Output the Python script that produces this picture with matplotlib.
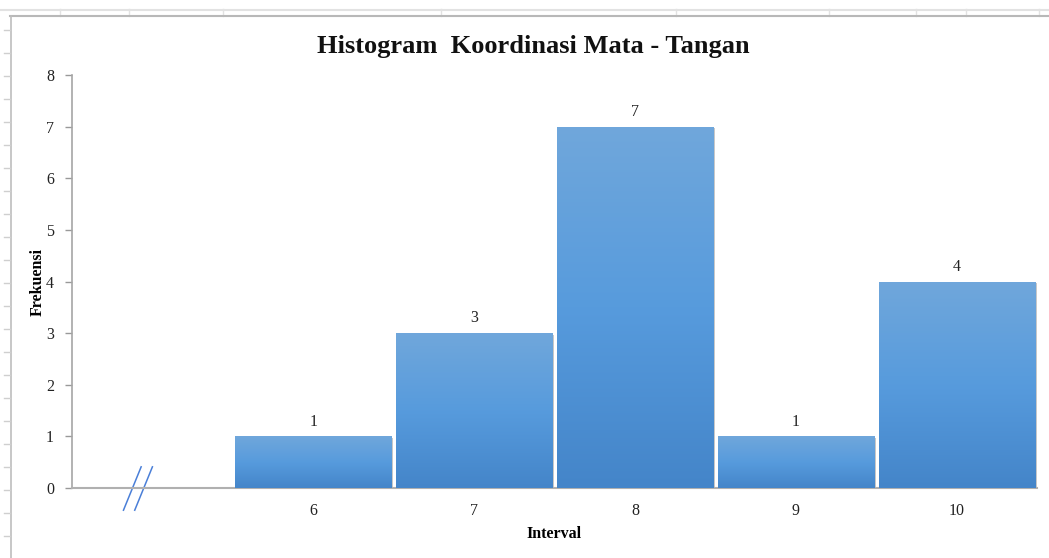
import matplotlib
matplotlib.use("Agg")
import matplotlib.pyplot as plt
import numpy as np
from matplotlib.lines import Line2D
from matplotlib.colors import LinearSegmentedColormap

categories = ["", "6", "7", "8", "9", "10"]
frequencies = [0, 1, 3, 7, 1, 4]
y_ticks = [0, 1, 2, 3, 4, 5, 6, 7, 8]
title = "Histogram  Koordinasi Mata - Tangan"
xlabel = "Interval"
ylabel = "Frekuensi"

plt.rcParams['font.family'] = ['Liberation Serif', 'DejaVu Serif']

W, H = 1049, 558
fig = plt.figure(figsize=(W / 100, H / 100), dpi=100)

# spreadsheet background decorations
grid_c = "#e2e2e2"
fig.add_artist(Line2D([0, 1], [1 - 10 / H] * 2, color=grid_c, lw=1.5))
for gx in [60, 129, 223, 441, 676, 829, 916, 966, 1039]:
    fig.add_artist(Line2D([gx / W] * 2, [1 - 9 / H, 1 - 16 / H], color=grid_c, lw=1))
fig.add_artist(Line2D([10 / W, 1], [1 - 16 / H] * 2, color="#b8b8b8", lw=1.5))
fig.add_artist(Line2D([11 / W] * 2, [1 - 16 / H, 0], color="#bdbdbd", lw=1.2))
for ty in np.arange(30, 558, 23):
    fig.add_artist(Line2D([4 / W, 10 / W], [1 - ty / H] * 2, color="#cfcfcf", lw=1))

ax = fig.add_axes([72 / W, 70 / H, 965 / W, 413 / H])
x = np.arange(len(categories))
bars = ax.bar(x, frequencies, width=0.97, color="#5B9BD5", edgecolor="none", zorder=2)

cmap = LinearSegmentedColormap.from_list("g", ["#4485C9", "#579BDD", "#70A7DB"])
grad = np.linspace(0, 1, 256).reshape(-1, 1)
for b, v in zip(bars, frequencies):
    if v <= 0:
        continue
    x0, y0 = b.get_x(), b.get_y()
    w, h = b.get_width(), b.get_height()
    # subtle shadow
    ax.bar(x0 + w / 2 + 0.012, v, width=w, bottom=-0.03, color="#c8c8c8",
           edgecolor="none", zorder=1)
    im = ax.imshow(grad, cmap=cmap, origin="lower", aspect="auto",
                   extent=(x0, x0 + w, y0, y0 + h), zorder=3)
    im.set_clip_path(b)
    ax.text(x0 + w / 2, v + 0.13, str(v), ha="center", va="bottom",
            fontsize=11.5, color="#222222", zorder=4)

ax.set_xlim(-0.5, len(categories) - 0.5)
ax.set_ylim(0, 8)
ax.set_yticks(y_ticks)
ax.set_xticks(x)
ax.set_xticklabels(categories)
ax.tick_params(axis="x", length=0, pad=11, labelsize=11.5, colors="#222222")
ax.tick_params(axis="y", length=5, width=1, color="#999999", pad=8,
               labelsize=11.5, labelcolor="#222222")
for s in ["top", "right"]:
    ax.spines[s].set_visible(False)
ax.spines["left"].set_color("#a6a6a6")
ax.spines["bottom"].set_color("#b0b0b0")
ax.spines["left"].set_linewidth(1.2)
ax.spines["bottom"].set_linewidth(1.5)

ax.set_xlabel(xlabel, fontsize=11.5, fontweight="bold", labelpad=5)
ax.set_ylabel(ylabel, fontsize=11.5, fontweight="bold")
ax.yaxis.set_label_coords(-0.036, 0.5)
ax.yaxis.label.set_va("center")

# axis break marks
for dx in [0, 0.07]:
    ax.add_artist(Line2D([-0.18 + dx, -0.07 + dx], [-0.43, 0.41],
                         color="#4a7fd8", lw=1.1, clip_on=False))

fig.text(533 / W, 1 - 46 / H, title, ha="center", va="center",
         fontsize=19, fontweight="bold", color="#111111")

fig.savefig("out.png", dpi=100)
